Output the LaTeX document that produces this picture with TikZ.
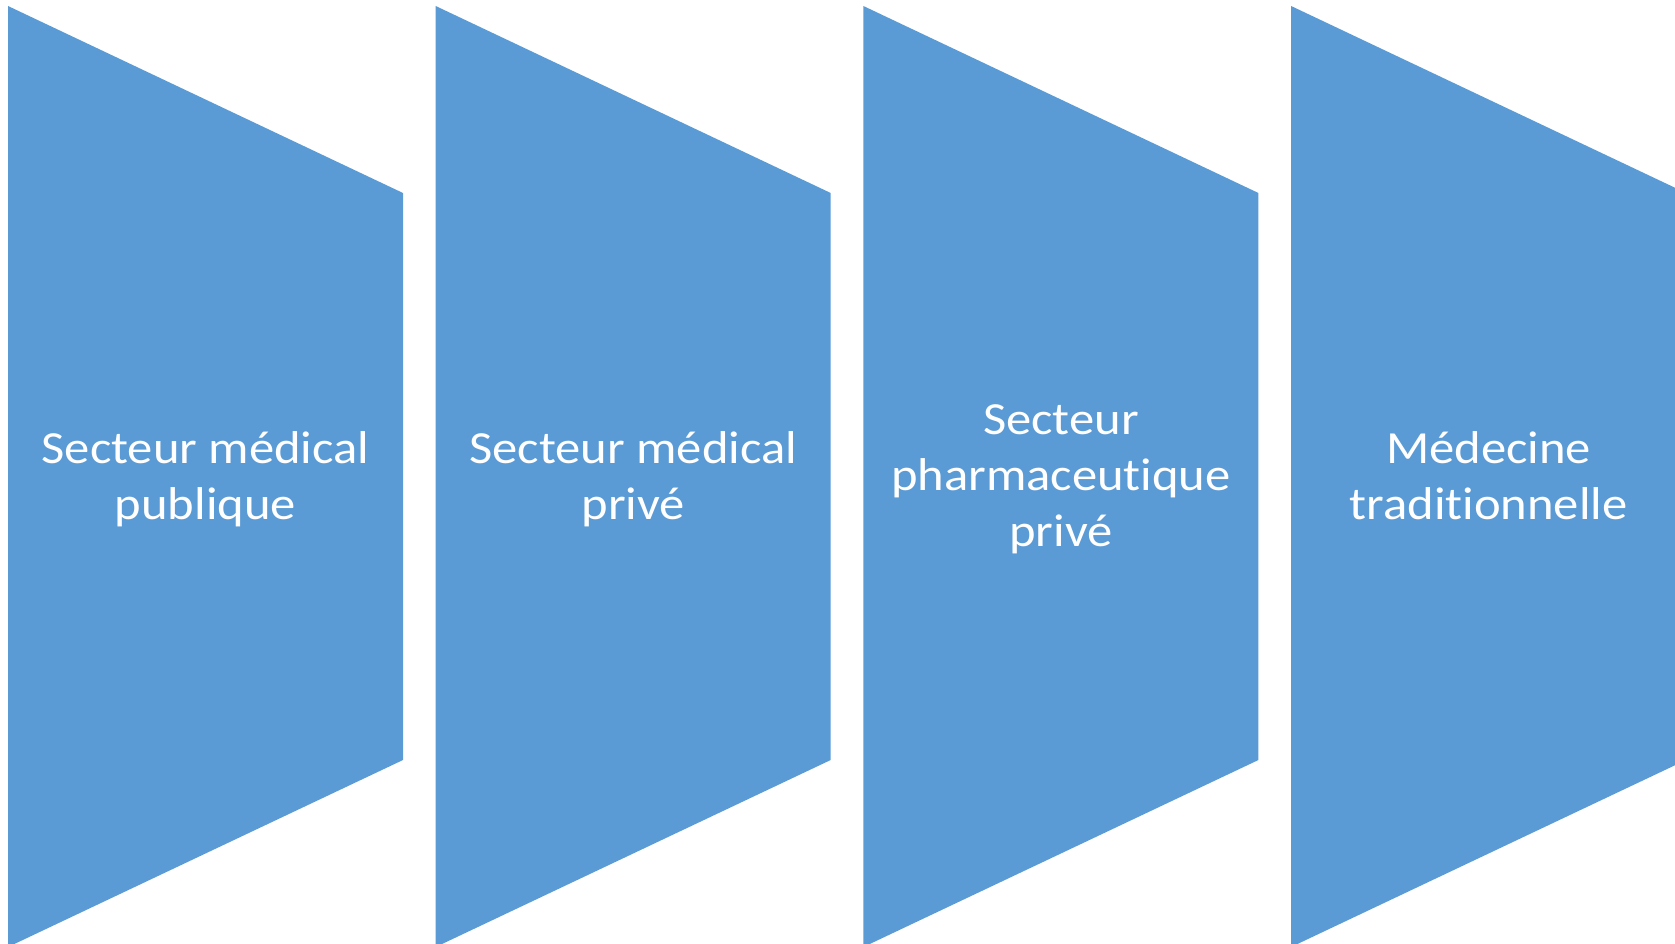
\documentclass[tikz,border=0pt]{standalone}
\usepackage{fontspec}
\setmainfont{Carlito}[Ligatures=CommonOff, FakeStretch=1.1]
\usetikzlibrary{calc}
\definecolor{panelblue}{HTML}{5B9BD5}
\tikzset{
  panel/.style={fill=panelblue},
  label/.style={text=white, align=center, font=\fontsize{46}{56}\selectfont,
    execute at end node=\vphantom{p}}
}

\begin{document}
\begin{tikzpicture}[x=1pt, y=-1pt]
    \useasboundingbox (0,0) rectangle (1675,944);
    \clip (0,0) rectangle (1675,944);
    \foreach \i/\txt in {0/{Secteur médical\\publique}, 1/{Secteur médical\\privé}, 2/{Secteur\\pharmaceutique\\privé}, 3/{Médecine\\traditionnelle}}{
        \coordinate (p\i) at ({8+427.7*\i},6);
        \fill[panel] (p\i) -- ++(395,187) -- ++(0,567) -- ++(-395,187) -- cycle;
        \node[label] (t\i) at ($(p\i)+(197.5,473.5)$) {\txt};
    }
\end{tikzpicture}
\end{document}
